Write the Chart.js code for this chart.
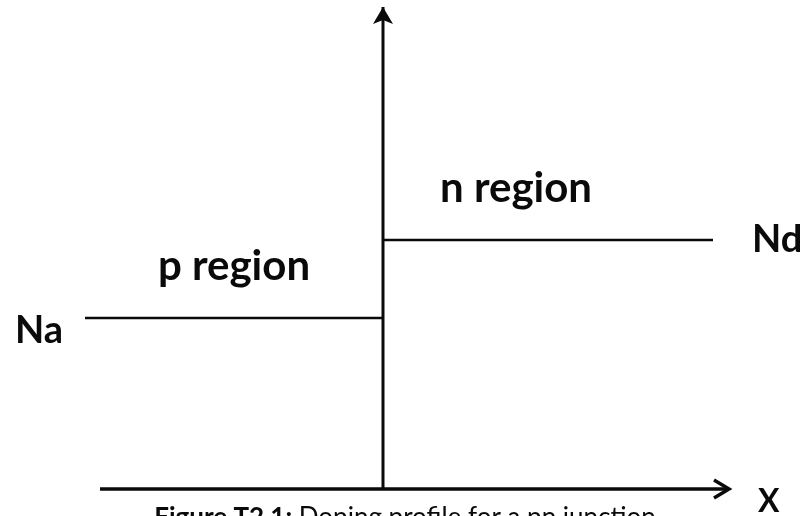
<!DOCTYPE html>
<html>
<head>
<meta charset="utf-8">
<script src="https://cdn.jsdelivr.net/npm/chart.js@4"></script>
<style>
  html, body { margin: 0; padding: 0; background: #fff; }
  #wrap { width: 803px; height: 516px; overflow: hidden; }
  canvas { display: block; }
</style>
</head>
<body>
<div id="wrap"><canvas id="c" width="803" height="516"></canvas></div>
<script>
// ---- data (arbitrary units; junction at x = 0) ----
const junctionX = 0;
const pSideX = [-2.98, 0];          // p region extent
const nSideX = [0, 3.30];           // n region extent
const dopingLabels = ['Na', 'Nd'];
const dopingValues = [1.71, 2.49];  // Na, Nd levels
const regionLabels = ['p region', 'n region'];
const xAxisRange = [-2.83, 3.46];   // horizontal axis extent
const yAxisRange = [0, 4.82];       // vertical axis extent
const axisLabel = 'X';
const captionBold = 'Figure T2.1:';
const captionText = ' Doping profile for a pn junction';

const INK = '#0a0a0a';
const FONT = 'Lato, "Open Sans", sans-serif';

const datasets = [
  { label: dopingLabels[0], data: pSideX.map(x => ({ x, y: dopingValues[0] })), borderWidth: 2.5 },
  { label: dopingLabels[1], data: nSideX.map(x => ({ x, y: dopingValues[1] })), borderWidth: 2.5 },
  { label: 'x-axis', data: xAxisRange.map(x => ({ x, y: 0 })), borderWidth: 3.5 },
  { label: 'y-axis', data: yAxisRange.map(y => ({ x: junctionX, y })), borderWidth: 3 }
].map(d => Object.assign(d, {
  borderColor: INK, backgroundColor: INK, pointRadius: 0, showLine: true,
  tension: 0, borderCapStyle: 'butt', fill: false
}));

const annot = {
  id: 'annot',
  afterDatasetsDraw(chart) {
    const { ctx, scales: { x, y } } = chart;
    const px = v => x.getPixelForValue(v);
    const py = v => y.getPixelForValue(v);
    ctx.save();
    ctx.fillStyle = INK; ctx.strokeStyle = INK;

    // vertical axis arrowhead (filled)
    const vx = px(junctionX), vTop = py(yAxisRange[1]);
    ctx.beginPath();
    ctx.moveTo(vx, vTop);
    ctx.lineTo(vx + 10, vTop + 17);
    ctx.lineTo(vx, vTop + 13);
    ctx.lineTo(vx - 10, vTop + 17);
    ctx.closePath();
    ctx.fill();

    // horizontal axis arrowhead (chevron)
    const hx = px(xAxisRange[1]), hy = py(0);
    ctx.lineWidth = 3.5; ctx.lineJoin = 'miter'; ctx.lineCap = 'butt';
    ctx.beginPath();
    ctx.moveTo(hx - 15, hy - 9);
    ctx.lineTo(hx, hy);
    ctx.lineTo(hx - 15, hy + 9);
    ctx.stroke();

    // labels
    ctx.textBaseline = 'alphabetic';
    ctx.font = 'bold 38px ' + FONT;
    ctx.textAlign = 'right';
    ctx.fillText(dopingLabels[0], px(pSideX[0]) - 22, py(dopingValues[0]) + 25);
    ctx.textAlign = 'left';
    ctx.fillText(dopingLabels[1], px(nSideX[1]) + 39, py(dopingValues[1]) + 12);
    ctx.font = 'bold 32px ' + FONT;
    ctx.fillText(axisLabel, hx + 29, hy + 23);

    ctx.font = 'bold 42px ' + FONT;
    ctx.textAlign = 'center';
    ctx.fillText(regionLabels[0], (px(pSideX[0]) + px(pSideX[1])) / 2, py(dopingValues[0]) - 38);
    ctx.textAlign = 'left';
    ctx.fillText(regionLabels[1], px(junctionX) + 57, py(dopingValues[1]) - 38);

    // caption (partially cut off by the bottom edge, as in the original)
    const capY = py(0) + 37;
    ctx.font = 'bold 26px ' + FONT;
    const wb = ctx.measureText(captionBold).width;
    ctx.font = '26px ' + FONT;
    const wt = ctx.measureText(captionText).width;
    let cx = 405 - (wb + wt) / 2;
    ctx.textAlign = 'left';
    ctx.font = 'bold 26px ' + FONT;
    ctx.fillText(captionBold, cx, capY);
    ctx.font = '26px ' + FONT;
    ctx.fillText(captionText, cx + wb, capY);
    ctx.restore();
  }
};

new Chart(document.getElementById('c'), {
  type: 'scatter',
  data: { datasets },
  options: {
    responsive: false,
    animation: false,
    devicePixelRatio: 1,
    layout: { padding: 0 },
    plugins: { legend: { display: false }, tooltip: { enabled: false } },
    scales: {
      x: { type: 'linear', display: false, min: -3.83, max: 4.20 },
      y: { type: 'linear', display: false, min: -0.27, max: 4.89 }
    }
  },
  plugins: [annot]
});
</script>
</body>
</html>
